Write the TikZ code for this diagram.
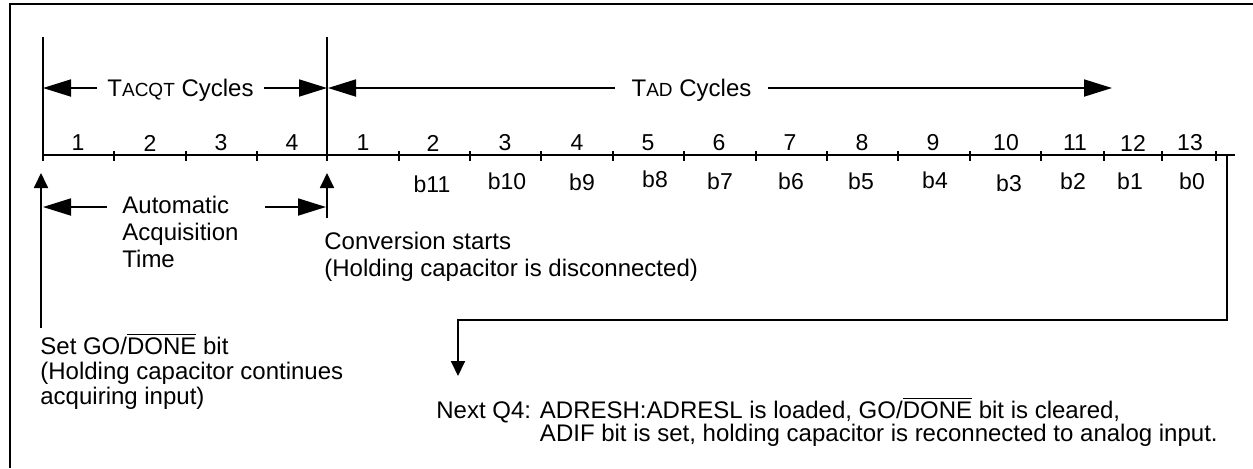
\documentclass[tikz,border=0pt]{standalone}
\usepackage{fontspec}
\setmainfont{Liberation Sans}
\usetikzlibrary{arrows.meta}
\newcommand{\ovl}[1]{$\overline{\hbox{#1}}$}
\newcommand{\smc}[1]{{\fontsize{9.5}{10}\selectfont #1}}
\begin{document}
\begin{tikzpicture}[x=0.5pt,y=-0.5pt,
  txt/.style={font=\fontsize{12}{13.3}\selectfont, inner sep=0pt, align=left, anchor=north west},
  lbl/.style={font=\fontsize{12}{13.3}\selectfont, inner ysep=0pt, text height=8.6pt, text depth=0pt},
  num/.style={font=\fontsize{11.5}{13}\selectfont, inner sep=0pt},
  bigarrow/.style={-{Triangle[length=14pt,width=8.5pt]}, line width=0.9pt},
  smallarrow/.style={-{Triangle[length=7.5pt,width=7pt]}, line width=0.9pt},
  rule/.style={line width=1.1pt}]
\useasboundingbox (0,0) rectangle (1253,468);
% frame
\draw[rule] (10,468) -- (10,4) -- (1253,4);

% time axis
\coordinate (ax0) at (43,155);
\coordinate (ax1) at (1235,155);
\draw[rule] (ax0) -- (ax1);
\coordinate (acqTop) at (43,37);
\coordinate (acqBot) at (43,161);
\coordinate (convTop) at (327,37);
\coordinate (convBot) at (327,161);
\draw[rule] (acqTop) -- (acqBot);
\draw[rule] (convTop) -- (convBot);
\foreach \x in {114,186,257,399,470,541,613,684,756,827,898,970,1041,1104,1162,1216}
  \draw[rule] (\x,151) -- (\x,161);

% cycle numbers
\foreach \x/\n in {78/1,150/2,221/3,292/4}
  \node[num] (q\n) at (\x,143) {\n};
\foreach \x/\n in {363/1,433/2,505/3,577/4,648/5,719/6,790/7,862/8,933/9,1006/10,1075/11,1133/12,1190/13}
  \node[num] (d\n) at (\x,143) {\n};

% bit labels
\foreach \x/\y/\n in {432/184/11,507/181/10,582/182/9,655/179/8,720/181/7,791/181/6,861/181/5,935/180/4,1009/183/3,1073/181/2,1130/181/1,1192/181/0}
  \node[num] (b\n) at (\x,\y) {b\n};

% TACQT cycles
\node[lbl, inner xsep=5pt] (tacq) at (180.5,88) {T\smc{ACQT} Cycles};
\coordinate (tacqL) at (43,88);
\coordinate (tacqR) at (327,88);
\draw[bigarrow] (tacq.west) -- (tacqL);
\draw[bigarrow] (tacq.east) -- (tacqR);

% TAD cycles
\node[lbl, inner xsep=8pt] (tad) at (691.5,88) {T\smc{AD} Cycles};
\coordinate (tadL) at (328,88);
\coordinate (tadR) at (1112,88);
\draw[bigarrow] (tad.west) -- (tadL);
\draw[bigarrow] (tad.east) -- (tadR);

% automatic acquisition time
\node[txt] (auto) at (122,196) {Automatic\\Acquisition\\Time};
\coordinate (autoL) at (43,207);
\coordinate (autoR) at (326,207);
\draw[bigarrow] ([xshift=-7.5pt]auto.west |- autoL) -- (autoL);
\draw[bigarrow] ([xshift=13pt]auto.east |- autoR) -- (autoR);

% set GO/DONE
\node[txt, font=\fontsize{12}{12.5}\selectfont] (setgo) at (40,333)
  {Set GO/\ovl{DONE} bit\\(Holding capacitor continues\\acquiring input)};
\coordinate (setBot) at (41,328);
\coordinate (setTip) at (41,173);
\draw[smallarrow] (setBot) -- (setTip);

% conversion starts
\node[txt] (conv) at (324,232) {Conversion starts\\(Holding capacitor is disconnected)};
\coordinate (convArrBot) at (327,218);
\coordinate (convTip) at (327,173);
\draw[smallarrow] (convArrBot) -- (convTip);

% end of conversion
\coordinate (endTop) at (1227,155);
\coordinate (nextTip) at (458,376);
\draw[smallarrow] (endTop) -- (1227,320) -- (458,320) -- (nextTip);
\node[txt, font=\fontsize{12}{11.8}\selectfont] (next) at (436,397)
  {Next Q4: ADRESH:ADRESL is loaded, GO/\ovl{DONE} bit is cleared,\\
   \phantom{Next Q4: }ADIF bit is set, holding capacitor is reconnected to analog input.};
\end{tikzpicture}
\end{document}
